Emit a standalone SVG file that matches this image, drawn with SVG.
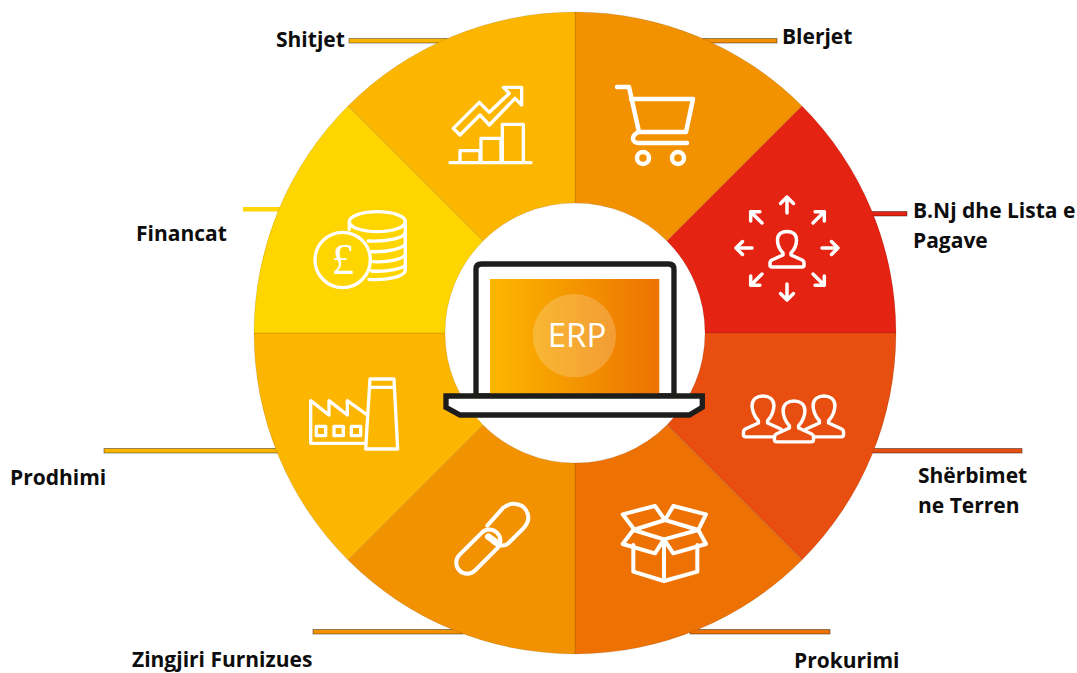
<svg xmlns="http://www.w3.org/2000/svg" width="1077" height="673" viewBox="0 0 1077 673">
<style>
.lbl{font-family:"Open Sans","Noto Sans","Liberation Sans",sans-serif;font-weight:700;font-size:21px;fill:#0d0d0d}
.sec{stroke:#000;stroke-opacity:.1;stroke-width:1}
.ic{fill:none;stroke:#fff;stroke-linejoin:round;stroke-linecap:round}
.conn{stroke:#000;stroke-opacity:.4;stroke-width:1}
</style>
<defs>
<linearGradient id="scr" x1="0" x2="1" y1="0" y2="0"><stop offset="0" stop-color="#FDB600"/><stop offset=".55" stop-color="#F39200"/><stop offset="1" stop-color="#EE7203"/></linearGradient>
<path id="person" d="M-4,5C-8,1-9.500-5-9.500-8C-9.500-14-5-16.500 0-16.500C5-16.500 9.500-14 9.500-8C9.500-5 8,1 4,5L4,7L15,12Q17,13 17,15L17,17Q17,19 15,19L-15,19Q-17,19-17,17L-17,15Q-17,13-15,12L-4,7Z"/>
<path id="arr" d="M0,-16V0M-6.500,-9.500L0,-16L6.500,-9.500"/>
</defs>
<g id="connectors">
<rect class="conn" x="349" y="38.500" width="100" height="4.500" fill="#FDB600"/>
<rect class="conn" x="702" y="38.500" width="75" height="4.500" fill="#F39200"/>
<rect class="conn" x="870" y="211.500" width="37" height="4.500" fill="#E52313"/>
<rect class="conn" x="870" y="448.500" width="152" height="4.500" fill="#E84E0F"/>
<rect class="conn" x="690" y="629.500" width="140" height="4.500" fill="#EE7203"/>
<rect class="conn" x="313" y="629.500" width="150" height="4.500" fill="#F39200"/>
<rect class="conn" x="104" y="448.500" width="175" height="4.500" fill="#FDB600"/>
<rect x="243" y="207" width="40" height="4.500" fill="#FFD500"/>
</g>
<g id="wheel">
<path class="sec" fill="#F39200" d="M575,12A321,321 0 0 1 802,106L667,241A130,130 0 0 0 575,203Z"/>
<path class="sec" fill="#E52313" d="M802,106A321,321 0 0 1 896,333L705,333A130,130 0 0 0 667,241Z"/>
<path class="sec" fill="#E84E0F" d="M896,333A321,321 0 0 1 802,560L667,425A130,130 0 0 0 705,333Z"/>
<path class="sec" fill="#EE7203" d="M802,560A321,321 0 0 1 575,654L575,463A130,130 0 0 0 667,425Z"/>
<path class="sec" fill="#F39200" d="M575,654A321,321 0 0 1 348,560L483,425A130,130 0 0 0 575,463Z"/>
<path class="sec" fill="#FDB600" d="M348,560A321,321 0 0 1 254,333L445,333A130,130 0 0 0 483,425Z"/>
<path class="sec" fill="#FFD500" d="M254,333A321,321 0 0 1 348,106L483,241A130,130 0 0 0 445,333Z"/>
<path class="sec" fill="#FDB600" d="M348,106A321,321 0 0 1 575,12L575,203A130,130 0 0 0 483,241Z"/>
</g>
<g id="node-blerjet">
<g class="ic" stroke-width="4.500"><path d="M617,87H629L639,132H686L693,99H631M639,132C631,135 631,143 639,143H687"/><circle cx="643" cy="158" r="6"/><circle cx="678" cy="158" r="6"/></g>
<text class="lbl" x="782" y="44">Blerjet</text>
</g>
<g id="node-hr">
<g class="ic" stroke-width="3.500">
<use href="#person" transform="translate(787,248)"/>
<use href="#arr" transform="translate(787,213)"/>
<use href="#arr" transform="translate(787,284) rotate(180)"/>
<use href="#arr" transform="translate(752,248) rotate(-90)"/>
<use href="#arr" transform="translate(822,248) rotate(90)"/>
<use href="#arr" transform="translate(762,223) rotate(-45)"/>
<use href="#arr" transform="translate(813,223) rotate(45)"/>
<use href="#arr" transform="translate(762,274) rotate(-135)"/>
<use href="#arr" transform="translate(813,274) rotate(135)"/>
</g>
<text class="lbl" x="913" y="218">B.Nj dhe Lista e</text>
<text class="lbl" x="913" y="248">Pagave</text>
</g>
<g id="node-field">
<g fill="#E84E0F" stroke="#fff" stroke-width="3" stroke-linejoin="round">
<use href="#person" transform="translate(763,415) scale(1.15)"/>
<use href="#person" transform="translate(824,415) scale(1.15)"/>
<use href="#person" transform="translate(794,420) scale(1.15)"/>
</g>
<text class="lbl" x="918" y="483">Shërbimet</text>
<text class="lbl" x="918" y="513">ne Terren</text>
</g>
<g id="node-prokurimi">
<g class="ic" stroke-width="12" transform="translate(600,380) scale(.3333)">
<path d="M100,495V575L192,603L292,575V495M192,478V603M100,450L195,420L295,450L192,478Z"/>
<path d="M100,445L68,403L165,378L195,420M195,420L220,378L318,403L295,450M100,450L68,492L165,520L192,478M295,450L318,492L220,520L192,478"/>
</g>
<text class="lbl" x="794" y="668">Prokurimi</text>
</g>
<g id="node-zingjiri">
<g class="ic" stroke-width="12" transform="translate(290,360) scale(.3333)">
<rect x="-80" y="-33" width="160" height="66" rx="33" transform="translate(565,575) rotate(-45)"/>
<path d="M592,497L638,445C660,425 695,428 708,450C722,472 712,492 700,505L655,550C640,562 620,558 605,540"/>
<path d="M595,530L625,552" stroke-width="20"/>
</g>
<text class="lbl" x="132" y="667">Zingjiri Furnizues</text>
</g>
<g id="node-prodhimi">
<g class="ic" stroke-width="10" transform="translate(290,360) scale(.3333)">
<path d="M232,165L172,122V165L117,122V165L62,122V250H228"/>
<path d="M240,57H312L323,267H227ZM240,82H312"/>
<rect x="79" y="199" width="28" height="28"/><rect x="132" y="199" width="28" height="28"/><rect x="184" y="199" width="28" height="28"/>
</g>
<text class="lbl" x="10" y="485">Prodhimi</text>
</g>
<g id="node-financat">
<g class="ic" stroke-width="10" transform="translate(290,70) scale(.3333)">
<circle cx="158" cy="570" r="83"/>
<ellipse cx="262" cy="455" rx="84" ry="30"/>
<path d="M178,455V478M346,455V485C346,505 290,515 235,513M346,485V518C346,535 290,547 245,545M346,518V550C346,568 290,578 250,575M346,550V582C346,595 290,607 245,603M346,582V600C346,620 290,632 237,628"/>
</g>
<text x="343" y="274" text-anchor="middle" font-family="'Liberation Serif',serif" font-size="45" fill="#fff">£</text>
<text class="lbl" x="136" y="241">Financat</text>
</g>
<g id="node-shitjet">
<g class="ic" stroke-width="10" transform="translate(290,70) scale(.3333)">
<path d="M480,278H723M510,278V242H570V278M573,278V205H633V278M637,278V163H700V278"/>
<path d="M640,52H695V105L675,85L598,165L570,135L510,195L490,175L568,97L598,127L658,70Z"/>
</g>
<text class="lbl" x="276" y="47">Shitjet</text>
</g>
<g id="node-erp">
<g transform="translate(440,250) scale(.3333)">
<path d="M108,438V58Q108,42 124,42H686Q702,42 702,58V438Z" fill="#fff" stroke="#1d1d1b" stroke-width="16"/>
<rect x="150" y="87" width="508" height="345" fill="url(#scr)"/>
<circle cx="403" cy="257" r="125" fill="#fff" fill-opacity=".2"/>
<path d="M18,438H787V472L748,495H60L18,472Z" fill="#fff" stroke="#1d1d1b" stroke-width="16"/>
</g>
<text x="577" y="347" text-anchor="middle" font-family="'Open Sans','Noto Sans',sans-serif" font-weight="400" font-size="33" fill="#fff">ERP</text>
</g>
</svg>
